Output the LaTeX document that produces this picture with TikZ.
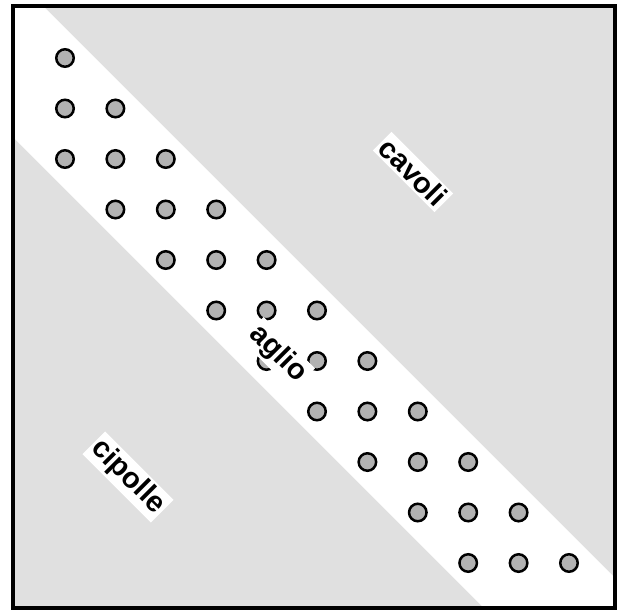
\documentclass[tikz,border=0pt]{standalone}
\usepackage{fontspec}
\setmainfont{Liberation Sans}
\begin{document}
\begin{tikzpicture}[x=1pt,y=-1pt,
  dot/.style={circle,draw=black,line width=2.5pt,fill=black!30,minimum size=17.5pt,inner sep=0pt},
  lbl/.style={fill=white,inner sep=2.5pt,font=\bfseries\fontsize{29}{29}\selectfont,rotate=-45}]
\useasboundingbox (0,0) rectangle (618,613);
\fill[black!12] (13,6) rectangle (615,608);
\begin{scope}
\clip (13,6) rectangle (615,608);
\fill[white] (-50,-87) -- (700,663) -- (700,824) -- (-50,74) -- cycle;
\end{scope}
\draw[line width=4pt] (13,6) rectangle (615,608);
\foreach \i in {0,...,10}{
  \pgfmathtruncatemacro{\jmin}{max(0,\i-2)}
  \foreach \j in {\jmin,...,\i}{
    \node[dot] (c-\i-\j) at ({65+50.4*\j},{58+50.5*\i}) {};
  }
}
\node[lbl] (cavoli) at (413,172) {cavoli};
\node[lbl] (cipolle) at (128,477) {cipolle};
\node[lbl] (aglio) at (278,354) {aglio};
\end{tikzpicture}
\end{document}
